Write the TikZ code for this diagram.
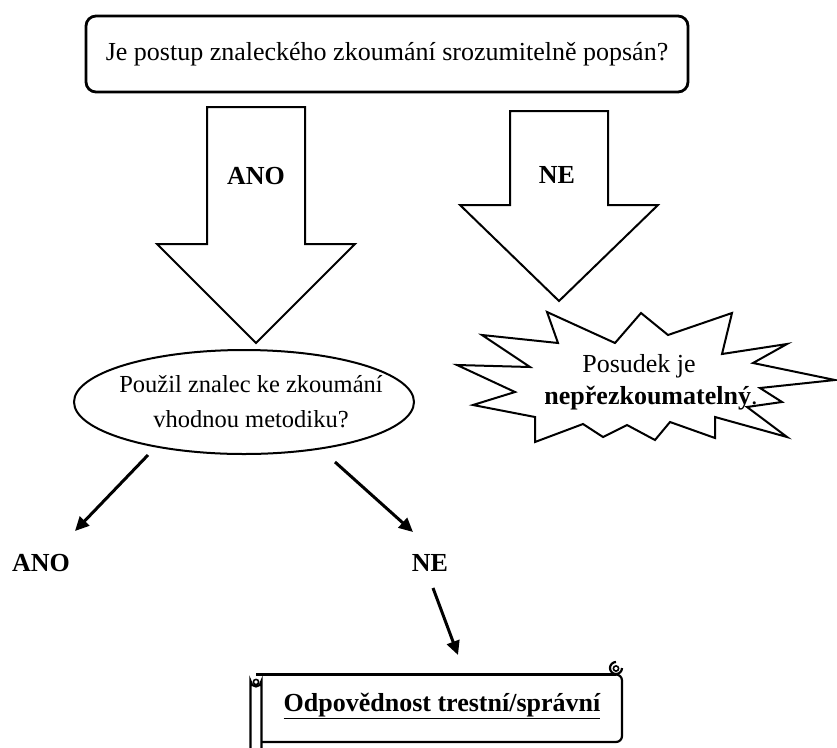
\documentclass[tikz,border=0pt]{standalone}
\usepackage{fontspec}
\setmainfont{Liberation Serif}
\usetikzlibrary{shapes.geometric,arrows.meta}
\tikzset{
  txt/.style={font=\fontsize{26}{34}\selectfont, inner sep=0pt, align=center},
  boldlbl/.style={font=\fontsize{26}{30}\selectfont\bfseries, inner sep=0pt},
  bigarrow/.style={draw, line width=2pt, fill=white, line join=miter},
  outline/.style={draw, line width=2pt},
  smallarrow/.style={line width=3pt, -{Triangle[length=14pt,width=13pt]}},
}
\begin{document}
\begin{tikzpicture}[x=1pt,y=-1pt]
\useasboundingbox (0,0) rectangle (837,747);
\clip (0,0) rectangle (837,747);

% top question box
\node[draw, line width=2.8pt, rounded corners=10pt, minimum width=602pt,
      minimum height=76pt, txt] (q1) at (387,54)
      {Je postup znaleckého zkoumání srozumitelně popsán?};

% big block arrows
\draw[bigarrow] (207,107) -- (305,107) -- (305,244) -- (355,244) -- (256,343)
      -- (157,244) -- (207,244) -- cycle;
\node[boldlbl] (yes1) at (256,176) {ANO};
\draw[bigarrow] (510,111) -- (608,111) -- (608,205) -- (658,205) -- (559,301)
      -- (460,205) -- (510,205) -- cycle;
\node[boldlbl] (no1) at (557,175) {NE};

% ellipse question
\node[ellipse, outline, minimum width=340pt, minimum height=104pt, inner sep=0pt] (q2) at (244,402) {};
\node[font=\fontsize{24.5}{35}\selectfont, inner sep=0pt, align=center] (q2t) at (251,402)
  {Použil znalec ke zkoumání\\vhodnou metodiku?};

% starburst
\draw[outline, line join=miter, fill=white]
  (547,312) -- (615,343) -- (641,313) -- (668,335) -- (732,313) -- (722,354)
  -- (787,344) -- (753,363) -- (835,380) -- (760,388) -- (782,402) -- (747,407)
  -- (787,437) -- (715,417) -- (715,438) -- (670,422) -- (655,440) -- (627,425)
  -- (603,437) -- (583,424) -- (535,442) -- (535,417) -- (473,405) -- (515,392)
  -- (457,365) -- (530,367) -- (482,335) -- (558,343) -- cycle;
\node[font=\fontsize{26}{32}\selectfont, inner sep=0pt, align=center] (burst) at (651,382)
  {Posudek je\hspace*{24pt}\\\textbf{nepřezkoumatelný}.};

% lower labels
\node[boldlbl] (yes2) at (41,563) {ANO};
\node[boldlbl] (no2) at (430,563) {NE};

\coordinate (a1s) at (148,455);
\coordinate (a1e) at (75,531);
\coordinate (a2s) at (335,462);
\coordinate (a2e) at (413,532);
\coordinate (a3s) at (433,588);
\coordinate (a3e) at (458,655);
\draw[smallarrow] (a1s) -- (a1e);
\draw[smallarrow] (a2s) -- (a2e);
\draw[smallarrow] (a3s) -- (a3e);

% scroll
\draw[line width=2.2pt, rounded corners=6pt] (616,674.5) -- (622,674.5) -- (622,742) -- (261,742);
\draw[line width=2.2pt] (256,674.5) -- (616,674.5);
\draw[line width=2.2pt] (622,668) arc (0:270:6);
\draw[line width=1.6pt] (616,668.5) circle (2.6pt);
\draw[line width=2.2pt] (250.5,760) -- (250.5,681) arc (180:0:5.5) -- (261.5,760);
\draw[line width=1.6pt] (256,682) circle (2.6pt);
\node[boldlbl] (res) at (442,706) {\underline{Odpovědnost trestní/správní}};
\end{tikzpicture}
\end{document}
